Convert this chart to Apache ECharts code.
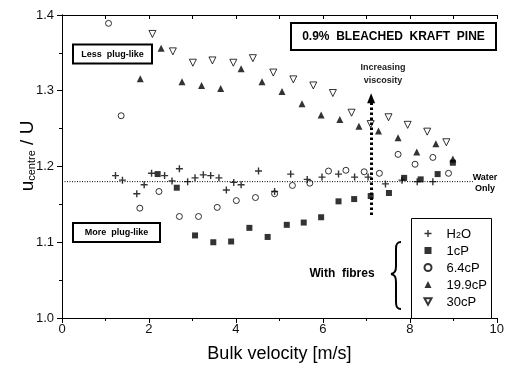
<!DOCTYPE html>
<html><head><meta charset="utf-8">
<script src="https://cdn.jsdelivr.net/npm/echarts@6/dist/echarts.min.js"></script>
<style>html,body{margin:0;padding:0;background:#fff}#c{width:507px;height:369px}</style>
</head><body><div id="c"></div>
<script>
// ---- data ----
const seriesNames = ['H2O', '1cP', '6.4cP', '19.9cP', '30cP'];
const xTickLabels = [0, 2, 4, 6, 8, 10];
const yTickLabels = [1.0, 1.1, 1.2, 1.3, 1.4];
const waterLine = [[0, 1.18], [9.45, 1.18]];
const viscosityArrow = [[7.11, 1.136], [7.11, 1.29]];

const h2o = [[1.23,1.188],[1.39,1.182],[1.72,1.164],[1.89,1.176],[2.06,1.191],[2.36,1.188],[2.53,1.181],[2.70,1.197],[2.89,1.180],[3.06,1.185],[3.25,1.189],[3.42,1.188],[3.61,1.185],[3.78,1.169],[3.95,1.179],[4.12,1.176],[4.52,1.194],[4.89,1.167],[5.26,1.190],[5.64,1.183],[5.98,1.186],[6.36,1.190],[6.73,1.186],[7.04,1.186],[7.44,1.177],[7.82,1.182],[8.17,1.180],[8.53,1.180]];
const cp1 = [[2.20,1.190],[2.64,1.172],[3.06,1.109],[3.48,1.100],[3.89,1.101],[4.31,1.119],[4.73,1.107],[5.17,1.123],[5.56,1.126],[5.96,1.133],[6.36,1.154],[6.72,1.157],[7.10,1.161],[7.52,1.165],[7.87,1.185],[8.25,1.183],[8.64,1.190],[8.99,1.205]];
const cp64 = [[1.07,1.389],[1.36,1.267],[1.79,1.145],[2.23,1.167],[2.70,1.134],[3.14,1.134],[3.57,1.146],[4.01,1.155],[4.45,1.159],[4.89,1.164],[5.30,1.175],[5.70,1.178],[6.13,1.194],[6.53,1.195],[6.95,1.193],[7.30,1.191],[7.73,1.216],[8.12,1.203],[8.53,1.212],[8.89,1.191]];
const cp199 = [[1.80,1.316],[2.28,1.356],[2.76,1.312],[3.21,1.307],[3.65,1.303],[4.12,1.329],[4.60,1.312],[5.06,1.299],[5.52,1.283],[5.96,1.268],[6.39,1.262],[6.83,1.253],[7.28,1.247],[7.73,1.238],[8.16,1.219],[8.60,1.230],[8.99,1.210]];
const cp30 = [[2.08,1.375],[2.55,1.352],[3.01,1.337],[3.46,1.340],[3.94,1.337],[4.39,1.343],[4.86,1.324],[5.32,1.315],[5.78,1.307],[6.23,1.297],[6.66,1.271],[7.10,1.256],[7.51,1.265],[7.95,1.255],[8.40,1.246],[8.84,1.232]];

// ---- chart ----
const FONT = '"Liberation Sans", Arial, Helvetica, sans-serif';
const PLUS = 'path://M4,0 L6,0 L6,4 L10,4 L10,6 L6,6 L6,10 L4,10 L4,6 L0,6 L0,4 L4,4 Z';
const DOWN_TRI = 'path://M0,0 L10,0 L5,9 Z';
const chart = echarts.init(document.getElementById('c'), null, {renderer: 'canvas'});

const axisCommon = {
  axisLine: {show: true, lineStyle: {color: '#000', width: 1}},
  splitLine: {show: false},
  minorSplitLine: {show: false}
};
const center = {textAlign: 'center', textVerticalAlign: 'middle', align: 'center', verticalAlign: 'middle'};
function txt(x, y, text, font, extra) {
  return {type: 'text', z: 4, x: x, y: y,
    style: Object.assign({text: text, font: font, fill: '#000'}, center, extra || {})};
}
function box(x, y, w, h, lw) {
  return {type: 'rect', z: 3, shape: {x: x, y: y, width: w, height: h},
    style: {fill: '#fff', stroke: '#000', lineWidth: lw}};
}
const braceStyle = {fill: 'none', stroke: '#000', lineWidth: 2};
function bez(x1, y1, c1x, c1y, c2x, c2y, x2, y2) {
  return {type: 'bezierCurve', z: 4,
    shape: {x1: x1, y1: y1, cpx1: c1x, cpy1: c1y, cpx2: c2x, cpy2: c2y, x2: x2, y2: y2},
    style: braceStyle};
}
function seg(x1, y1, x2, y2) {
  return {type: 'line', z: 4, shape: {x1: x1, y1: y1, x2: x2, y2: y2}, style: braceStyle};
}

const option = {
  animation: false,
  backgroundColor: '#fff',
  grid: {left: 62, right: 5, top: 15, bottom: 51, containLabel: false},
  xAxis: [
    Object.assign({}, axisCommon, {
      type: 'value', min: xTickLabels[0], max: xTickLabels[xTickLabels.length - 1], interval: 2,
      position: 'bottom',
      axisTick: {show: true, inside: false, length: 5, lineStyle: {color: '#000'}},
      minorTick: {show: true, splitNumber: 2, length: 3, lineStyle: {color: '#000'}},
      axisLabel: {show: true, margin: 5, color: '#111', fontSize: 13, fontFamily: FONT},
      name: 'Bulk velocity [m/s]', nameLocation: 'middle', nameGap: 27,
      nameTextStyle: {fontSize: 18, color: '#000', fontFamily: FONT}
    }),
    Object.assign({}, axisCommon, {
      type: 'value', min: 0, max: 10, interval: 1, position: 'top',
      axisTick: {show: true, inside: true, length: 4, lineStyle: {color: '#000'}},
      axisLabel: {show: false}
    })
  ],
  yAxis: [
    Object.assign({}, axisCommon, {
      type: 'value', min: yTickLabels[0], max: yTickLabels[yTickLabels.length - 1], interval: 0.1,
      position: 'left',
      axisTick: {show: true, inside: false, length: 5, lineStyle: {color: '#000'}},
      minorTick: {show: true, splitNumber: 2, length: 3, lineStyle: {color: '#000'}},
      axisLabel: {show: true, margin: 8, color: '#111', fontSize: 13, fontFamily: FONT,
        formatter: v => v.toFixed(1)}
    }),
    Object.assign({}, axisCommon, {
      type: 'value', min: 1.0, max: 1.4, interval: 0.1, position: 'right',
      axisTick: {show: true, inside: true, length: 5, lineStyle: {color: '#000'}},
      axisLabel: {show: false}
    })
  ],
  legend: {
    data: seriesNames,
    orient: 'vertical', left: 423.5, top: 227.5, padding: 0,
    itemWidth: 7, itemHeight: 7, itemGap: 4, selectedMode: false, z: 6,
    formatter: n => n === 'H2O' ? '{a|H}{s|2}{a|O}' : '{a|' + n + '}',
    textStyle: {
      color: '#000', fontFamily: FONT, fontSize: 13, padding: [0, 0, 0, 10],
      rich: {
        a: {fontSize: 13, fontFamily: FONT, color: '#000', lineHeight: 14, verticalAlign: 'bottom'},
        s: {fontSize: 9, fontFamily: FONT, color: '#000', lineHeight: 8, verticalAlign: 'bottom'}
      }
    }
  },
  series: [
    {
      name: 'water', type: 'line', data: waterLine, symbol: 'none', silent: true, z: 1,
      lineStyle: {color: '#000', width: 1, type: [1, 1.5]},
      markLine: {
        silent: true, symbol: ['none', 'triangle'], symbolSize: [8, 10], animation: false,
        label: {show: false},
        lineStyle: {color: '#000', width: 3, type: [2.5, 2.5]},
        data: [[{coord: viscosityArrow[0]}, {coord: viscosityArrow[1]}]]
      }
    },
    {name: 'H2O', type: 'scatter', data: h2o, symbol: PLUS, symbolSize: 7,
     itemStyle: {color: '#000'}},
    {name: '1cP', type: 'scatter', data: cp1, symbol: 'rect', symbolSize: 6,
     itemStyle: {color: '#000'}},
    {name: '6.4cP', type: 'scatter', data: cp64, symbol: 'circle', symbolSize: 6,
     itemStyle: {color: 'rgba(255,255,255,0)', borderColor: '#000', borderWidth: 1}},
    {name: '19.9cP', type: 'scatter', data: cp199, symbol: 'triangle', symbolSize: 7,
     itemStyle: {color: '#000'}},
    {name: '30cP', type: 'scatter', data: cp30, symbol: DOWN_TRI, symbolSize: 7,
     itemStyle: {color: 'rgba(255,255,255,0)', borderColor: '#000', borderWidth: 1}}
  ],
  graphic: [
    box(291, 23, 205, 27, 2),
    txt(393.5, 36.5, '0.9%  BLEACHED  KRAFT  PINE', 'bold 12px ' + FONT),
    box(73, 44.5, 79, 19, 2),
    txt(112.5, 54.5, 'Less  plug-like', 'bold 9px ' + FONT),
    box(73, 223, 87, 19, 2),
    txt(116.5, 233, 'More  plug-like', 'bold 9px ' + FONT),
    txt(383, 74, 'Increasing\nviscosity', 'bold 9px ' + FONT, {fill: '#222', lineHeight: 13}),
    txt(485, 183.5, 'Water\nOnly', 'bold 9px ' + FONT, {lineHeight: 11}),
    box(411.5, 218.5, 80, 100, 1),
    txt(342, 273.5, 'With  fibres', 'bold 12px ' + FONT),
    bez(401, 242, 397, 242, 396, 244, 396, 249),
    seg(396, 249, 396, 266),
    bez(396, 266, 396, 271, 395, 273, 391, 274),
    bez(391, 274, 395, 275, 396, 277, 396, 282),
    seg(396, 282, 396, 302),
    bez(396, 302, 396, 307, 397, 309, 401, 309),
    {type: 'text', z: 4, x: 27, y: 156, rotation: Math.PI / 2,
     style: Object.assign({text: '{a|u}{s|centre}{a| / U}', fill: '#000',
       rich: {
         a: {fontSize: 19, fontFamily: FONT, fill: '#000', color: '#000', lineHeight: 20, verticalAlign: 'bottom'},
         s: {fontSize: 11, fontFamily: FONT, fill: '#000', color: '#000', lineHeight: 8, verticalAlign: 'bottom'}
       }}, center)}
  ]
};
chart.setOption(option);
</script>
</body></html>
